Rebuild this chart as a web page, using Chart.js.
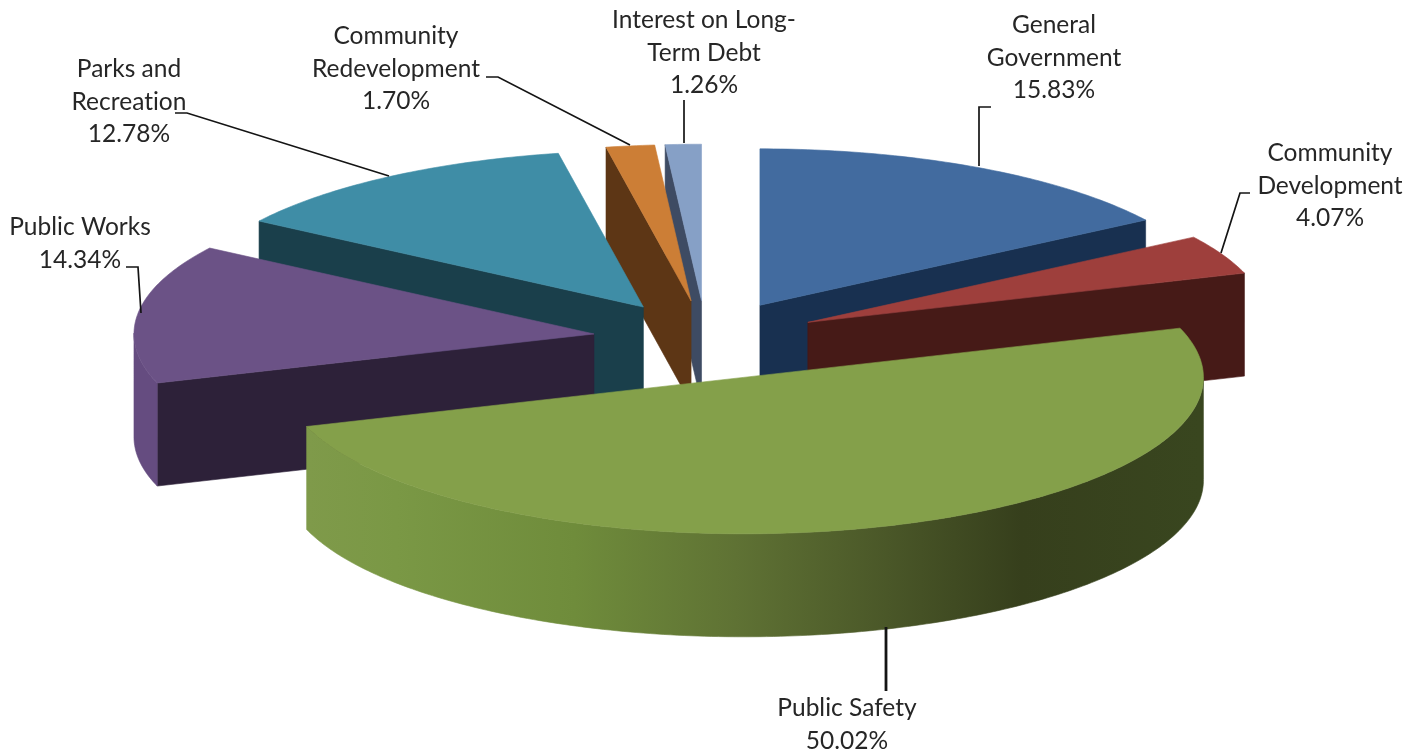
<!DOCTYPE html>
<html>
<head>
<meta charset="utf-8">
<title>Expenses by function</title>
<script src="https://cdn.jsdelivr.net/npm/chart.js@4"></script>
<style>
  html, body { margin: 0; padding: 0; background: #fff; }
  canvas { display: block; }
</style>
</head>
<body>
<canvas id="expenseChart" width="1422" height="751"></canvas>
<script>
const categories = [
  "General Government",
  "Community Development",
  "Public Safety",
  "Public Works",
  "Parks and Recreation",
  "Community Redevelopment",
  "Interest on Long-Term Debt",
];
const shares = [15.83, 4.07, 50.02, 14.34, 12.78, 1.7, 1.26];

// how each category wraps over its label lines
const labelLines = [
  ["General", "Government"],
  ["Community", "Development"],
  ["Public Safety"],
  ["Public Works"],
  ["Parks and", "Recreation"],
  ["Community", "Redevelopment"],
  ["Interest on Long-", "Term Debt"],
];

const topColors = ["#426b9f", "#9e3f3c", "#84a04a", "#6b5286", "#3f8da6", "#cc7e36", "#86a0c6"];
const wallColors = ["#183050", "#461a17", "#3a4820", "#2d2139", "#1a3f4b", "#5d3615", "#3e4b63"];
const rimColors = ["#183050", "#461a17", null, "#654c80", "#1a3f4b", "#5d3615", "#3e4b63"];

// 3D look: vertical squash, wall height and how far each slice is pulled out
const TILT = 0.34;
const WALL_HEIGHT = 103;
const explode = [113, 113, 119, 113, 113, 113, 113];
const paintOrder = [6, 5, 4, 0, 1, 3, 2];

// [centre x, first baseline] of each label
const labelAnchors = [
  [1054, 33],
  [1330, 161],
  [847, 716],
  [80, 235],
  [129, 77],
  [396, 44],
  [704, 28],
];
const LINE_HEIGHT = 32.5;

// leader line polylines, label end first
const leaders = [
  [[991, 107], [979, 107], [979, 166]],
  [[1250, 193], [1240, 193], [1221, 253]],
  [[886, 627], [886, 691]],
  [[126, 267], [138, 267], [141, 313]],
  [[175, 113], [187, 113], [389, 176]],
  [[486, 77], [498, 77], [630, 145]],
  [[684, 100], [684, 143]],
];

function sliceOutline(arc) {
  const { x, y, startAngle, endAngle, outerRadius, options } = arc;
  const mid = (startAngle + endAngle) / 2;
  const cx = x + Math.cos(mid) * options.offset;
  const cy = y + Math.sin(mid) * options.offset;
  const project = (px, py) => ({ x: px, y: y + (py - y) * TILT });

  const points = [project(cx, cy)];
  const steps = Math.max(2, Math.ceil((endAngle - startAngle) / 0.015));
  for (let i = 0; i <= steps; i++) {
    const a = startAngle + ((endAngle - startAngle) * i) / steps;
    points.push(project(cx + Math.cos(a) * outerRadius, cy + Math.sin(a) * outerRadius));
  }
  return points;
}

function fillPolygon(ctx, points, fill) {
  ctx.beginPath();
  points.forEach((p, i) => (i ? ctx.lineTo(p.x, p.y) : ctx.moveTo(p.x, p.y)));
  ctx.closePath();
  ctx.fillStyle = fill;
  ctx.strokeStyle = fill;
  ctx.lineWidth = 0.6;
  ctx.fill();
  ctx.stroke();
}

function extrude(points) {
  const lowered = points.map((p) => ({ x: p.x, y: p.y + WALL_HEIGHT }));
  return [...points, ...lowered.reverse()];
}

function safetyRimGradient(ctx) {
  const g = ctx.createLinearGradient(307, 0, 1200, 0);
  g.addColorStop(0, "#7f9a4a");
  g.addColorStop(0.1, "#7a9845");
  g.addColorStop(0.3, "#6f8c3b");
  g.addColorStop(0.48, "#5f7234");
  g.addColorStop(0.65, "#4a5728");
  g.addColorStop(0.8, "#363f1c");
  g.addColorStop(1, "#39461f");
  return g;
}

function drawSlice(ctx, arc, index) {
  const top = sliceOutline(arc);
  const apex = top[0];
  const rim = top.slice(1);
  const first = rim[0];
  const last = rim[rim.length - 1];

  // only the edges running right to left face the viewer
  if (first.x < apex.x) fillPolygon(ctx, extrude([apex, first]), wallColors[index]);
  if (apex.x < last.x) fillPolygon(ctx, extrude([last, apex]), wallColors[index]);

  const frontRim = rim.filter(
    (p, i) => (i < rim.length - 1 && rim[i + 1].x < p.x) || (i > 0 && p.x < rim[i - 1].x)
  );
  if (frontRim.length) {
    fillPolygon(ctx, extrude(frontRim), rimColors[index] || safetyRimGradient(ctx));
  }

  fillPolygon(ctx, top, arc.options.backgroundColor);
}

const pie3d = {
  id: "pie3d",
  beforeDatasetsDraw(chart) {
    const { ctx } = chart;
    const arcs = chart.getDatasetMeta(0).data;
    paintOrder.forEach((index) => drawSlice(ctx, arcs[index], index));
    return false;
  },
  afterDraw(chart) {
    const { ctx } = chart;
    ctx.save();

    ctx.strokeStyle = "#141414";
    ctx.lineJoin = "miter";
    leaders.forEach((line, i) => {
      ctx.lineWidth = i === 2 ? 2.8 : 1.7;
      ctx.beginPath();
      line.forEach((p, j) => (j ? ctx.lineTo(p[0], p[1]) : ctx.moveTo(p[0], p[1])));
      ctx.stroke();
    });

    ctx.font = "24.5px Lato";
    ctx.letterSpacing = "0.01px";
    ctx.fillStyle = "#262626";
    ctx.textAlign = "center";
    ctx.textBaseline = "alphabetic";
    categories.forEach((name, i) => {
      const lines = [...labelLines[i], `${shares[i].toFixed(2)}%`];
      const [x, y] = labelAnchors[i];
      lines.forEach((text, j) => ctx.fillText(text, x, y + j * LINE_HEIGHT));
    });

    ctx.restore();
  },
};

function createExpenseChart() {
  const ctx = document.getElementById("expenseChart");
  if (!ctx) return;

  return new Chart(ctx, {
    type: "pie",
    data: {
      labels: categories,
      datasets: [
        {
          data: shares,
          backgroundColor: topColors,
          borderWidth: 0,
          offset: explode,
        },
      ],
    },
    options: {
      responsive: false,
      animation: false,
      radius: 460,
      layout: {
        padding: { right: 10, bottom: 73 },
      },
      plugins: {
        legend: { display: false },
        tooltip: { enabled: false },
      },
    },
    plugins: [pie3d],
  });
}

document.addEventListener("DOMContentLoaded", createExpenseChart);
</script>
</body>
</html>
